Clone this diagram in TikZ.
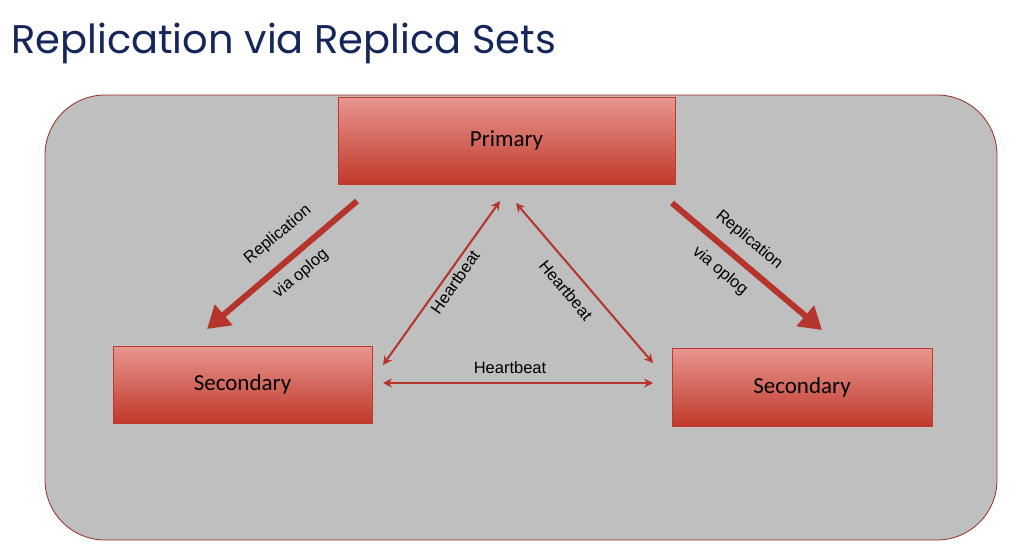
\documentclass[tikz,border=0pt]{standalone}
\usepackage{fontspec}
\setmainfont{Carlito}
\newfontfamily\titlefont{Poppins}
\newfontfamily\labelfont{Liberation Sans}
\usetikzlibrary{arrows.meta,positioning}
\definecolor{titleblue}{HTML}{15265A}
\definecolor{boxred}{HTML}{C0392B}
\definecolor{boxpink}{HTML}{E8968F}
\definecolor{arrowred}{HTML}{B5352C}
\tikzset{
  member/.style={draw=boxred, line width=1pt, top color=boxpink, bottom color=boxred,
    minimum width=#1, font=\fontsize{23}{27}\selectfont, text=black, inner sep=0pt},
  repl/.style={draw=arrowred, line width=6pt, -{Triangle[length=22pt,width=26pt]}},
  beat/.style={draw=arrowred, line width=2pt, {Stealth[length=9pt,width=9pt]}-{Stealth[length=9pt,width=9pt]}},
  lbl/.style={font=\labelfont\fontsize{16.5}{19}\selectfont, text=black, inner sep=1pt}
}
\begin{document}
\begin{tikzpicture}[x=1pt,y=-1pt]
  \useasboundingbox (0,0) rectangle (1024,554);
  \fill[white] (0,0) rectangle (1024,554);
  \node[anchor=base west, inner sep=0pt, text=titleblue, font=\titlefont\fontsize{40}{46}\selectfont] (title) at (11,53) {Replication via Replica Sets};
  \draw[draw=boxred!80!black, fill=gray!50, line width=0.8pt, rounded corners=60pt] (45,95) rectangle (997,540);
  % members
  \node[member=337pt, minimum height=87pt] (primary) at (506.5,140.5) {Primary};
  \node[member=259pt, minimum height=77pt] (secl) at (242.5,384.5) {Secondary};
  \node[member=260pt, minimum height=78pt] (secr) at (802,387) {Secondary};
  % end points
  \coordinate (rl0) at (357,201); \coordinate (rl1) at (207,329);
  \coordinate (rr0) at (672,203); \coordinate (rr1) at (822,330);
  \coordinate (hl0) at (500,201); \coordinate (hl1) at (383,365);
  \coordinate (hr0) at (516,203); \coordinate (hr1) at (653,363);
  \coordinate (hb0) at (383,383); \coordinate (hb1) at (653,383);
  \draw[repl] (rl0) -- (rl1);
  \draw[repl] (rr0) -- (rr1);
  \draw[beat] (hl0) -- (hl1);
  \draw[beat] (hr0) -- (hr1);
  \draw[beat] (hb0) -- (hb1);
  % labels
  \node[lbl, rotate=40] (rlA) at (278,235) {Replication};
  \node[lbl, rotate=40] (rlB) at (301,274) {via oplog};
  \node[lbl, rotate=-40] (rrA) at (749,240) {Replication};
  \node[lbl, rotate=-40] (rrB) at (720,271) {via oplog};
  \node[lbl, rotate=55] (hlA) at (455,282) {Heartbeat};
  \node[lbl, rotate=-50] (hrA) at (566,290) {Heartbeat};
  \node[lbl] (hbA) at (510,368) {Heartbeat};
\end{tikzpicture}
\end{document}
